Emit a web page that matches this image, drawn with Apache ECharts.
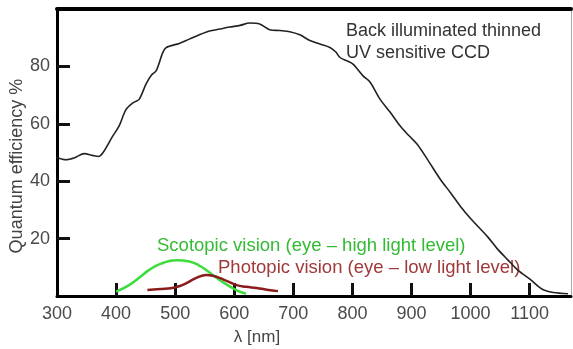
<!DOCTYPE html>
<html><head><meta charset="utf-8">
<script src="https://cdn.jsdelivr.net/npm/echarts@6/dist/echarts.min.js"></script>
<style>html,body{margin:0;padding:0;background:#fff}#c{width:573px;height:349px}</style>
</head><body><div id="c"></div>
<script>
const xTickLabels = [300, 400, 500, 600, 700, 800, 900, 1000, 1100];
const xTickMarks = [400, 500, 600, 700, 800, 900, 1000, 1100];
const yTickLabels = [20, 40, 60, 80];

const ccdWavelength = [300, 315, 330, 346, 360, 370, 378, 394, 405, 417, 430, 439, 451, 460, 468, 479, 485, 507, 524, 541, 558, 575, 592, 610, 626, 643, 660, 677, 694, 711, 728, 745, 762, 772, 779, 790, 801, 818, 830, 847, 864, 881, 895, 910, 927, 949, 966, 983, 1000, 1029, 1045, 1063, 1080, 1102, 1115, 1124, 1140, 1165];
const ccdQE = [48.3, 47.5, 48.2, 49.6, 49, 48.6, 50, 55.6, 59.2, 65, 67.5, 68.5, 74, 77, 78.5, 84.8, 86.6, 88, 89.5, 91, 92.3, 93, 93.7, 94.3, 95.1, 94.8, 92.8, 92.5, 92.1, 91, 89, 87.8, 86.6, 85, 83.1, 82, 80.8, 76.7, 74.5, 68.5, 64, 59.2, 56, 52.8, 47.6, 40.6, 36, 31.2, 27, 20.6, 16.5, 12.6, 9, 5.6, 3.3, 2.1, 1.2, 0.8];

const scotopicWavelength = [400, 422, 440, 456, 475, 502, 524, 540, 553, 575, 597, 609, 620];
const scotopicVals = [1.5, 3.8, 6.5, 9.1, 11.2, 12.5, 12, 10.7, 9, 5.6, 2.8, 1.5, 0.8];

const photopicWavelength = [453, 475, 495, 508, 519, 535, 553, 565, 575, 590, 604, 620, 638, 655, 674];
const photopicVals = [2.1, 2.4, 2.8, 3.5, 4.5, 6.2, 7.3, 7, 6.3, 5, 3.8, 3.2, 2.8, 2.2, 1.7];

const pair = (xs, ys) => xs.map((x, i) => [x, ys[i]]);
const FONT = '"Liberation Sans", Arial, sans-serif';

const chart = echarts.init(document.getElementById('c'), null, {renderer: 'canvas'});
chart.setOption({
  animation: false,
  backgroundColor: '#fff',
  grid: {left: 57, right: 2, top: 9, bottom: 53, containLabel: false},
  xAxis: [{
    type: 'value', min: 300, max: 1170, interval: 100, position: 'bottom',
    axisLine: {show: true, onZero: false, lineStyle: {color: '#000', width: 3}},
    axisTick: {show: true, inside: true, length: 13, customValues: xTickMarks, lineStyle: {color: '#111', width: 3}},
    axisLabel: {show: true, customValues: xTickLabels, formatter: v => String(v), margin: 9, color: '#4a4a4a', fontSize: 18, fontFamily: FONT},
    splitLine: {show: false}
  }, {
    type: 'value', min: 300, max: 1170, position: 'top',
    axisLine: {show: true, onZero: false, lineStyle: {color: '#000', width: 4}},
    axisTick: {show: false}, axisLabel: {show: false}, splitLine: {show: false}
  }],
  yAxis: [{
    type: 'value', min: 0, max: 100, interval: 20, position: 'left',
    axisLine: {show: true, onZero: false, lineStyle: {color: '#000', width: 3}},
    axisTick: {show: true, inside: true, length: 13, customValues: yTickLabels, lineStyle: {color: '#111', width: 3}},
    axisLabel: {show: true, customValues: yTickLabels, formatter: v => String(v), margin: 7, color: '#4a4a4a', fontSize: 18, fontFamily: FONT},
    splitLine: {show: false}
  }, {
    type: 'value', min: 0, max: 100, position: 'right',
    axisLine: {show: true, onZero: false, lineStyle: {color: '#aaa', width: 1}},
    axisTick: {show: false}, axisLabel: {show: false}, splitLine: {show: false}
  }],
  series: [{
    name: 'Back illuminated thinned UV sensitive CCD', type: 'line', smooth: 0.3, symbol: 'none',
    data: pair(ccdWavelength, ccdQE), lineStyle: {color: '#222', width: 1.6}, z: 3
  }, {
    name: 'Scotopic vision', type: 'line', smooth: 0.5, symbol: 'none',
    data: pair(scotopicWavelength, scotopicVals), lineStyle: {color: '#3ddc3d', width: 2.5}, z: 2
  }, {
    name: 'Photopic vision', type: 'line', smooth: 0.5, symbol: 'none',
    data: pair(photopicWavelength, photopicVals), lineStyle: {color: '#8a1c1c', width: 2.5}, z: 2
  }],
  graphic: [
    {type: 'text', left: 346, top: 20, style: {text: 'Back illuminated thinned\nUV sensitive CCD', fill: '#333', font: '18px ' + FONT, lineHeight: 22}},
    {type: 'text', left: 157, top: 236, style: {text: 'Scotopic vision (eye – high light level)', fill: '#33bb33', font: '18.5px ' + FONT}},
    {type: 'text', left: 218, top: 258, style: {text: 'Photopic vision (eye – low light level)', fill: '#a03a3a', font: '18.5px ' + FONT}},
    {type: 'text', x: 257, y: 337, style: {text: 'λ [nm]', fill: '#444', font: '17px ' + FONT, textAlign: 'center', textVerticalAlign: 'middle'}},
    {type: 'text', x: 17, y: 166, rotation: Math.PI / 2, style: {text: 'Quantum efficiency %', fill: '#444', font: '18px ' + FONT, textAlign: 'center', textVerticalAlign: 'middle'}}
  ]
});
</script>
</body></html>
